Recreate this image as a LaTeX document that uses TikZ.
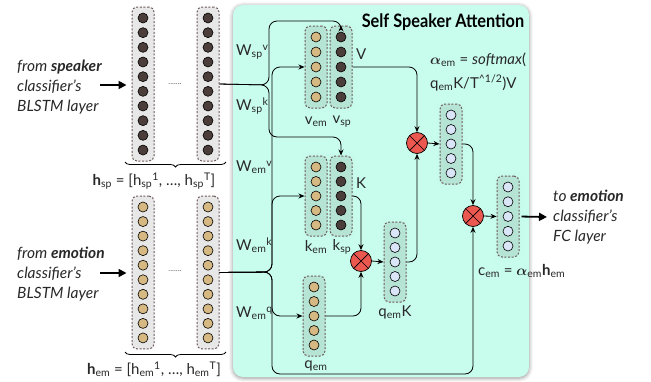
\documentclass[tikz,border=0pt]{standalone}
\usepackage{fontspec}
\setmainfont{Lato}
\newfontfamily\titlefont{Lato}[FakeStretch=0.88]
\usepackage{bm}
\usetikzlibrary{arrows.meta,decorations.pathreplacing,shadows.blur,calc}
\definecolor{greenbg}{RGB}{200,252,236}
\definecolor{dotdark}{RGB}{75,62,58}
\definecolor{dottan}{RGB}{214,184,130}
\definecolor{dotblue}{RGB}{218,230,248}
\definecolor{multred}{RGB}{234,88,80}
\definecolor{boxdash}{RGB}{110,90,90}
\definecolor{txtc}{RGB}{40,40,40}
\tikzset{
  dot/.style={circle, draw=black, line width=0.6pt, minimum size=10pt, inner sep=0pt},
  darkdot/.style={dot, fill=dotdark},
  tandot/.style={dot, fill=dottan},
  bluedot/.style={dot, fill=dotblue},
  colbox/.style={draw=boxdash, line width=1pt, dash pattern=on 2pt off 1.6pt,
    rounded corners=5pt, minimum width=22pt, inner sep=0pt,
    fill=black, fill opacity=0.07,
    blur shadow={shadow xshift=0pt, shadow yshift=0pt, shadow blur radius=4pt, shadow opacity=35}},
  panel/.style={fill=greenbg, rounded corners=10pt, inner sep=0pt,
    blur shadow={shadow xshift=0pt, shadow yshift=-1pt, shadow blur radius=4pt, shadow opacity=45}},
  mult/.style={circle, draw=black, line width=0.7pt, fill=multred, minimum size=21pt, inner sep=0pt,
    path picture={\draw[line width=0.7pt] (path picture bounding box.north west) -- (path picture bounding box.south east)
      (path picture bounding box.north east) -- (path picture bounding box.south west);}},
  conn/.style={draw, line width=0.8pt, -{Stealth[length=6pt,width=5pt]}, rounded corners=8pt},
  bigarrow/.style={draw, line width=1.8pt, -{Triangle[length=8pt,width=8pt]}},
  lbl/.style={font=\fontsize{15}{17}\selectfont, text=txtc, inner sep=0pt},
  side/.style={font=\fontsize{15.5}{20}\selectfont\itshape, text=txtc, align=left, inner sep=0pt, anchor=west},
  dotsl/.style={font=\fontsize{8}{8}\selectfont, text=black!60, inner sep=0pt},
  brace/.style={decorate, decoration={brace, mirror, amplitude=5pt}, line width=0.8pt},
}
\newcommand\mkcol[6]{%
  \pgfmathsetmacro\colh{(#4-1)*#5+22}%
  \pgfmathsetmacro\colmid{#3+(#4-1)*#5/2}%
  \node[colbox, minimum height=\colh pt] (#1) at (#2,\colmid) {};
  \foreach \i in {1,...,#4} {\node[#6] (#1-\i) at (#2,{#3+(\i-1)*#5}) {};}
}
\begin{document}
\begin{tikzpicture}[x=1pt,y=-1pt]
\useasboundingbox (0,0) rectangle (651,381);
% panel
\node[panel, minimum width=296pt, minimum height=372pt] (attn) at (381,191) {};
\node[font=\titlefont\bfseries\fontsize{18.5}{20}\selectfont, inner sep=0pt] (title) at (443,22) {Self Speaker Attention};

% input columns
\mkcol{spA}{143}{18}{10}{14.67}{darkdot}
\mkcol{spB}{208}{18}{10}{14.67}{darkdot}
\mkcol{emA}{143}{207}{10}{14.55}{tandot}
\mkcol{emB}{208}{207}{10}{14.55}{tandot}
\node[dotsl] (dsp) at (175,84) {.......};
\node[dotsl] (dem) at (175,271) {.......};

% attention columns
\mkcol{vem}{316}{37}{5}{15}{tandot}
\mkcol{vsp}{341}{37}{5}{15}{darkdot}
\mkcol{kem}{316}{167}{5}{14.5}{tandot}
\mkcol{ksp}{341}{167}{5}{14.5}{darkdot}
\mkcol{qem}{314}{287}{5}{14.5}{tandot}
\mkcol{qk}{395}{233}{5}{14.5}{bluedot}
\mkcol{alpha}{451}{115}{5}{14.5}{bluedot}
\mkcol{c}{508}{187}{5}{14.75}{bluedot}

% multipliers
\node[mult] (m1) at (417,143) {};
\node[mult] (m2) at (361,261) {};
\node[mult] (m3) at (473,216) {};

% coordinates
\coordinate (spin) at (100,85);
\coordinate (emin) at (100,273);
\coordinate (sbr) at (269,85);
\coordinate (ebr) at (272,272);
\coordinate (vtop) at (341,21);
\coordinate (ktop) at (341,137);
\coordinate (ebot) at (300,374);
\coordinate (cout) at (547,217);

% big arrows
\draw[bigarrow, shorten >=5pt] (spin) -- (spA.west |- spin);
\draw[bigarrow, shorten >=5pt] (emin) -- (emA.west |- emin);
\draw[bigarrow, shorten <=2pt] (c.east) -- (cout);

% speaker branches
\draw[conn] (spB.east) -- (sbr) |- (vtop) -- (vsp.north);
\draw[conn] (spB.east) -- (sbr) |- (ktop) -- (ksp.north);
% emotion branches
\draw[conn] (emB.east) -- (ebr) |- (vem.west);
\draw[conn] (emB.east) -- (ebr) |- (kem.west);
\draw[conn] (emB.east) -- (ebr) |- (qem.west);
\draw[conn] (emB.east) -- (ebr) |- (ebot) -| (m3.south);
% attention flow
\draw[conn] (vsp.east) -| (m1.north);
\draw[conn] (ksp.east) -| (m2.north);
\draw[conn] (qem.east) -| (m2.south);
\draw[conn] (m2.east) -- (qk.west);
\draw[conn] (qk.east) -| (m1.south);
\draw[conn] (m1.east) -- (alpha.west);
\draw[conn] (alpha.east) -| (m3.north);
\draw[conn] (m3.east) -- (c.west);

% braces
\coordinate (bsp1) at (125,162); \coordinate (bsp2) at (226,162);
\coordinate (bem1) at (125,352); \coordinate (bem2) at (226,352);
\draw[brace] (bsp1) -- (bsp2);
\draw[brace] (bem1) -- (bem2);

% side texts
\node[side] (spktxt) at (17,87) {from \textbf{speaker}\\classifier's\\BLSTM layer};
\node[side] (emotxt) at (17,274) {from \textbf{emotion}\\classifier's\\BLSTM layer};
\node[side] (outtxt) at (553,217) {to \textbf{emotion}\\classifier's\\FC layer};

% h labels
\node[lbl] (hsp) at (154,181) {\textbf{h}\textsubscript{sp} = [h\textsubscript{sp}\textsuperscript{1}, \dots, h\textsubscript{sp}\textsuperscript{T}]};
\node[lbl] (hem) at (154,369) {\textbf{h}\textsubscript{em} = [h\textsubscript{em}\textsuperscript{1}, \dots, h\textsubscript{em}\textsuperscript{T}]};

% W labels
\node[lbl, anchor=west] (wspv) at (236,52) {W\textsubscript{sp}\textsuperscript{v}};
\node[lbl, anchor=west] (wspk) at (236,106) {W\textsubscript{sp}\textsuperscript{k}};
\node[lbl, anchor=west] (wemv) at (236,167) {W\textsubscript{em}\textsuperscript{v}};
\node[lbl, anchor=west] (wemk) at (236,245) {W\textsubscript{em}\textsuperscript{k}};
\node[lbl, anchor=west] (wemq) at (236,313) {W\textsubscript{em}\textsuperscript{q}};

% column labels
\node[lbl, anchor=west] (vlab) at (356,54) {V};
\node[lbl, anchor=west] (klab) at (356,183) {K};
\node[lbl] (vemlab) at (316,122) {v\textsubscript{em}};
\node[lbl] (vsplab) at (342,122) {v\textsubscript{sp}};
\node[lbl] (kemlab) at (316,247) {k\textsubscript{em}};
\node[lbl] (ksplab) at (342,247) {k\textsubscript{sp}};
\node[lbl] (qemlab) at (316,366) {q\textsubscript{em}};
\node[lbl] (qklab) at (395,312) {q\textsubscript{em}K};

% formula
\node[lbl, anchor=west] (f1) at (430,60) {$\bm{\alpha}$\textsubscript{em} = \textit{softmax}(};
\node[lbl, anchor=west] (f2) at (430,83) {q\textsubscript{em}K/T\textsuperscript{\textasciicircum 1/2})V};
\node[lbl, anchor=west] (clab) at (478,271) {c\textsubscript{em} = $\bm{\alpha}$\textsubscript{em}\textbf{h}\textsubscript{em}};
\end{tikzpicture}
\end{document}
